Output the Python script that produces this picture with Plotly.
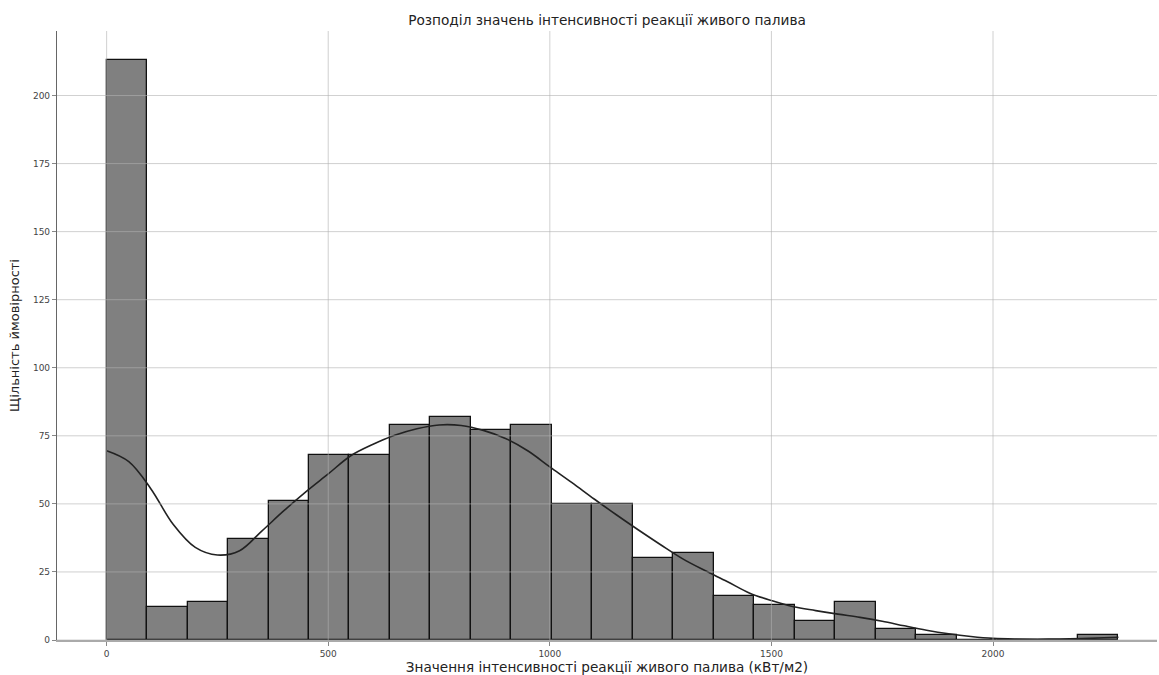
import numpy as np
import plotly.graph_objects as go

# Histogram counts per bin (25 equal bins spanning the data range)
data_min = 0.0
data_max = 2283.0
counts = [213, 12, 14, 37, 51, 68, 68, 79, 82, 77, 79, 50, 50,
          30, 32, 16, 13, 7, 14, 4, 2, 0, 0, 0, 2]

# Kernel density estimate curve (scaled to counts)
kde_x = [0, 50, 100, 150, 200, 250, 300, 350, 400, 450, 500, 550, 600, 650,
         700, 750, 800, 850, 900, 950, 1000, 1050, 1100, 1150, 1200, 1250,
         1300, 1350, 1400, 1450, 1500, 1550, 1600, 1650, 1700, 1750, 1800,
         1850, 1900, 1950, 2000, 2050, 2100, 2150, 2200, 2250, 2283]
kde_y = [69.5, 65.5, 55.5, 42.5, 34.0, 31.2, 32.8, 40.0, 47.5, 54.5, 61.0,
         67.6, 71.8, 75.2, 77.6, 79.0, 78.8, 77.0, 74.0, 69.5, 63.6, 57.8,
         51.8, 46.0, 40.4, 35.0, 29.8, 25.5, 21.5, 17.3, 14.5, 12.2, 10.8,
         9.5, 8.3, 6.9, 5.2, 3.6, 2.3, 1.3, 0.6, 0.35, 0.3, 0.35, 0.5, 0.8, 1.0]

x_ticks = [0, 500, 1000, 1500, 2000]
y_ticks = [0, 25, 50, 75, 100, 125, 150, 175, 200]

title_text = "Розподіл значень інтенсивності реакції живого палива"
x_label = "Значення інтенсивності реакції живого палива (кВт/м2)"
y_label = "Щільність ймовірності"

edges = np.linspace(data_min, data_max, len(counts) + 1)
centers = (edges[:-1] + edges[1:]) / 2
width = edges[1] - edges[0]

FONT = "DejaVu Sans"

fig = go.Figure()
fig.add_trace(go.Bar(
    x=centers, y=counts, width=width,
    marker=dict(color="#808080", line=dict(color="#111111", width=1.3)),
    showlegend=False, hoverinfo="x+y",
))
fig.add_trace(go.Scatter(
    x=kde_x, y=kde_y, mode="lines",
    line=dict(color="#222222", width=1.6, shape="spline", smoothing=1.0),
    showlegend=False,
))

# Grid drawn over the bars
grid_color = "rgba(176,176,176,0.6)"
shapes = []
for t in x_ticks:
    shapes.append(dict(type="line", xref="x", yref="paper", x0=t, x1=t, y0=0, y1=1,
                       line=dict(color=grid_color, width=1), layer="above"))
for t in y_ticks:
    shapes.append(dict(type="line", xref="paper", yref="y", x0=0, x1=1, y0=t, y1=t,
                       line=dict(color=grid_color, width=1), layer="above"))

fig.update_layout(
    width=1159, height=675,
    margin=dict(l=57, r=2, t=31, b=35),
    paper_bgcolor="white", plot_bgcolor="white",
    font=dict(family=FONT, color="#333333"),
    bargap=0,
    shapes=shapes,
    title=dict(text=title_text, x=0.5, xref="paper", xanchor="center",
               y=0.97, yref="container", yanchor="middle",
               font=dict(size=13.7, color="#222222")),
    xaxis=dict(
        range=[-112, 2370], tickvals=x_ticks, ticktext=[str(t) for t in x_ticks],
        showgrid=False, zeroline=False,
        showline=True, linecolor="#aaaaaa", linewidth=1.5,
        ticks="outside", ticklen=4, tickcolor="#888888",
        tickfont=dict(size=9, color="#444444"),
        title=dict(text=x_label, font=dict(size=13.6, color="#222222"), standoff=4),
        automargin=False,
    ),
    yaxis=dict(
        range=[0, 223.7], tickvals=y_ticks, ticktext=[str(t) for t in y_ticks],
        showgrid=False, zeroline=False,
        showline=True, linecolor="#666666", linewidth=1.2,
        ticks="outside", ticklen=4, tickcolor="#888888",
        tickfont=dict(size=9, color="#444444"),
        title=dict(text=y_label, font=dict(size=13, color="#222222"), standoff=10),
        automargin=False,
    ),
)

fig.write_html("out.html")
